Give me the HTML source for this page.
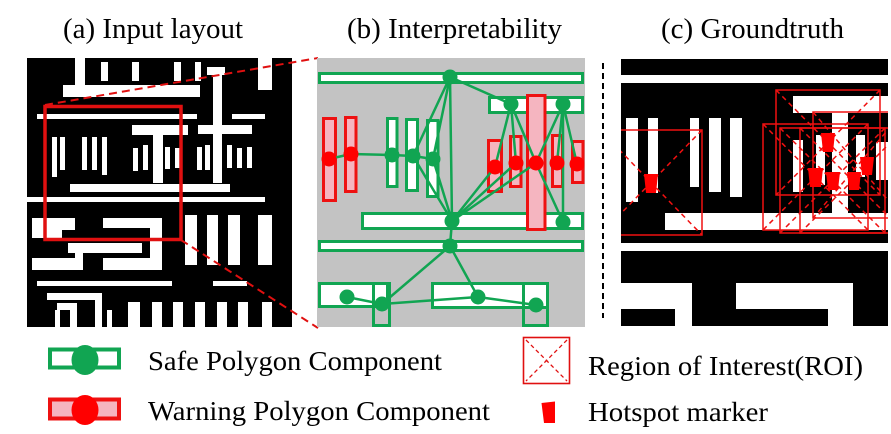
<!DOCTYPE html>
<html><head><meta charset="utf-8">
<style>
html,body{margin:0;padding:0;background:#fff;}
svg{display:block;}
text{font-family:"Liberation Serif",serif;fill:#000;}
</style></head><body>
<svg width="891" height="434" viewBox="0 0 891 434" xmlns="http://www.w3.org/2000/svg">
<defs>
<clipPath id="cc"><rect x="621" y="58" width="267" height="269"/></clipPath>
</defs>
<rect x="0" y="0" width="891" height="434" fill="#fff"/>

<text x="63" y="38" font-size="28" textLength="180" lengthAdjust="spacingAndGlyphs">(a) Input layout</text>
<text x="347" y="38" font-size="28" textLength="215" lengthAdjust="spacingAndGlyphs">(b) Interpretability</text>
<text x="661" y="38" font-size="28" textLength="183" lengthAdjust="spacingAndGlyphs">(c) Groundtruth</text>

<rect x="27" y="58" width="265" height="269" fill="#000"/>
<g fill="#fff">
  <rect x="75" y="58" width="10" height="27"/>
  <rect x="63" y="85" width="137" height="12"/>
  <rect x="101" y="62" width="7" height="19"/>
  <rect x="132" y="62" width="7" height="19"/>
  <rect x="174" y="62" width="7" height="19"/>
  <rect x="195" y="62" width="6" height="19"/>
  <rect x="258" y="58" width="14" height="32"/>
  <rect x="207" y="67" width="18" height="8"/>
  <rect x="213" y="67" width="9" height="116"/>
  <rect x="37" y="114" width="160" height="5"/>
  <rect x="232" y="114" width="33" height="5"/>
  <rect x="132" y="125" width="56" height="10"/>
  <rect x="153" y="125" width="10" height="58"/>
  <rect x="198" y="125" width="54" height="9"/>
  <rect x="52" y="137" width="5" height="40"/>
  <rect x="60" y="137" width="5" height="33"/>
  <rect x="82" y="137" width="5" height="33"/>
  <rect x="92" y="137" width="5" height="33"/>
  <rect x="102" y="137" width="5" height="38"/>
  <rect x="133" y="148" width="5" height="23"/>
  <rect x="143" y="145" width="5" height="25"/>
  <rect x="165" y="147" width="5" height="22"/>
  <rect x="175" y="148" width="5" height="20"/>
  <rect x="197" y="147" width="5" height="23"/>
  <rect x="205" y="145" width="5" height="25"/>
  <rect x="227" y="145" width="5" height="23"/>
  <rect x="237" y="148" width="5" height="20"/>
  <rect x="247" y="147" width="5" height="21"/>
  <rect x="70" y="184" width="160" height="8"/>
  <rect x="27" y="197" width="238" height="5"/>
  <rect x="185" y="215" width="12" height="50"/>
  <rect x="207" y="215" width="11" height="50"/>
  <rect x="228" y="215" width="12" height="50"/>
  <rect x="258" y="215" width="14" height="50"/>
  <rect x="32" y="218" width="43" height="12"/>
  <rect x="32" y="230" width="30" height="8"/>
  <rect x="68" y="243" width="74" height="10"/>
  <rect x="75" y="243" width="8" height="27"/>
  <rect x="32" y="258" width="51" height="12"/>
  <rect x="103" y="218" width="59" height="10"/>
  <rect x="150" y="218" width="12" height="52"/>
  <rect x="103" y="258" width="59" height="12"/>
  <rect x="37" y="281" width="135" height="5"/>
  <rect x="213" y="281" width="34" height="5"/>
  <rect x="47" y="293" width="55" height="7"/>
  <rect x="95" y="293" width="7" height="34"/>
  <rect x="57" y="303" width="20" height="7"/>
  <rect x="55" y="310" width="5" height="17"/>
  <rect x="70" y="305" width="7" height="22"/>
  <rect x="107" y="310" width="5" height="17"/>
  <rect x="128" y="302" width="12" height="25"/>
  <rect x="152" y="302" width="10" height="25"/>
  <rect x="173" y="302" width="10" height="25"/>
  <rect x="195" y="302" width="10" height="25"/>
  <rect x="217" y="302" width="10" height="25"/>
  <rect x="238" y="302" width="10" height="25"/>
  <rect x="262" y="302" width="10" height="25"/>
</g>
<rect x="45" y="106.5" width="136" height="133" fill="none" stroke="#e01010" stroke-width="3.5"/>
<line x1="45" y1="105" x2="318" y2="58" stroke="#e01010" stroke-width="2" stroke-dasharray="8,5"/>
<line x1="181" y1="240" x2="318" y2="328" stroke="#e01010" stroke-width="2" stroke-dasharray="8,5"/>

<rect x="317" y="58" width="268" height="269" fill="#c3c3c3"/>
<g fill="#fff" stroke="#11a552" stroke-width="3">
  <rect x="319.5" y="73.5" width="263" height="9"/>
  <rect x="489.5" y="97.5" width="93" height="15"/>
  <rect x="387.5" y="118.5" width="9.5" height="68"/>
  <rect x="406.5" y="119.5" width="11" height="71"/>
  <rect x="427.5" y="120.5" width="10.5" height="76"/>
  <rect x="362.5" y="213.5" width="220" height="15"/>
  <rect x="319.5" y="241.5" width="263" height="9"/>
  <rect x="319.5" y="283.5" width="68" height="23"/>
  <rect x="432.5" y="283.5" width="115" height="24"/>
</g>
<g fill="none" stroke="#11a552" stroke-width="3">
  <rect x="373.5" y="283.5" width="16" height="42"/>
  <rect x="523.5" y="283.5" width="24" height="42"/>
</g>
<g fill="#f5b5c0" stroke="#ee1111" stroke-width="3">
  <rect x="323.5" y="118.5" width="12" height="82"/>
  <rect x="345.5" y="117.5" width="10.5" height="74"/>
  <rect x="488.5" y="140.5" width="13" height="51"/>
  <rect x="510.5" y="136.5" width="10.5" height="50"/>
  <rect x="552.5" y="135.5" width="10" height="51"/>
  <rect x="572.5" y="141.5" width="10.5" height="41"/>
  <rect x="527.5" y="95.5" width="17.5" height="134"/>
</g>
<g stroke="#11a552" stroke-width="2.5" stroke-linecap="round">
  <line x1="329" y1="159" x2="351" y2="154"/>
  <line x1="351" y1="154" x2="392" y2="155"/>
  <line x1="392" y1="155" x2="413" y2="156"/>
  <line x1="413" y1="156" x2="433" y2="159"/>
  <line x1="450" y1="77" x2="511" y2="104"/>
  <line x1="450" y1="77" x2="413" y2="156"/>
  <line x1="450" y1="77" x2="433" y2="159"/>
  <line x1="450" y1="77" x2="452" y2="221"/>
  <line x1="413" y1="156" x2="452" y2="221"/>
  <line x1="433" y1="159" x2="452" y2="221"/>
  <line x1="511" y1="104" x2="495" y2="167"/>
  <line x1="511" y1="104" x2="516" y2="163"/>
  <line x1="511" y1="104" x2="536" y2="163"/>
  <line x1="563" y1="104" x2="536" y2="163"/>
  <line x1="563" y1="104" x2="557" y2="163"/>
  <line x1="563" y1="104" x2="577" y2="164"/>
  <line x1="563" y1="104" x2="563" y2="222"/>
  <line x1="452" y1="221" x2="495" y2="167"/>
  <line x1="452" y1="221" x2="516" y2="163"/>
  <line x1="452" y1="221" x2="536" y2="163"/>
  <line x1="536" y1="163" x2="563" y2="222"/>
  <line x1="452" y1="221" x2="450" y2="246"/>
  <line x1="450" y1="246" x2="382" y2="304"/>
  <line x1="450" y1="246" x2="478" y2="297"/>
  <line x1="347" y1="297" x2="382" y2="304"/>
  <line x1="382" y1="304" x2="478" y2="297"/>
  <line x1="478" y1="297" x2="536" y2="305"/>
</g>
<g fill="#11a552">
  <circle cx="450" cy="77" r="7.5"/>
  <circle cx="511" cy="104" r="7.5"/>
  <circle cx="563" cy="104" r="7.5"/>
  <circle cx="392" cy="155" r="7.5"/>
  <circle cx="413" cy="156" r="7.5"/>
  <circle cx="433" cy="159" r="7.5"/>
  <circle cx="452" cy="221" r="7.5"/>
  <circle cx="563" cy="222" r="7.5"/>
  <circle cx="450" cy="246" r="7.5"/>
  <circle cx="347" cy="297" r="7.5"/>
  <circle cx="382" cy="304" r="7.5"/>
  <circle cx="478" cy="297" r="7.5"/>
  <circle cx="536" cy="305" r="7.5"/>
</g>
<g fill="#ff0000">
  <circle cx="329" cy="159" r="7.5"/>
  <circle cx="351" cy="154" r="7.5"/>
  <circle cx="495" cy="167" r="7.5"/>
  <circle cx="516" cy="163" r="7.5"/>
  <circle cx="536" cy="163" r="7.5"/>
  <circle cx="557" cy="163" r="7.5"/>
  <circle cx="577" cy="164" r="7.5"/>
</g>

<line x1="603" y1="63" x2="603" y2="318" stroke="#000" stroke-width="2" stroke-dasharray="6,4"/>
<rect x="621" y="59" width="267" height="267" fill="#000"/>
<g fill="#fff">
  <rect x="621" y="75" width="267" height="8"/>
  <rect x="621" y="243" width="267" height="8"/>
  <rect x="626" y="118" width="12" height="84"/>
  <rect x="648" y="118" width="10" height="75"/>
  <rect x="690" y="118" width="9" height="69"/>
  <rect x="709" y="118" width="12" height="74"/>
  <rect x="730" y="118" width="12" height="79"/>
  <rect x="665" y="213" width="223" height="17"/>
  <rect x="793" y="96" width="95" height="17"/>
  <rect x="832" y="113" width="16" height="104"/>
  <rect x="793" y="140" width="10" height="52"/>
  <rect x="816" y="135" width="9" height="50"/>
  <rect x="856" y="135" width="9" height="42"/>
  <rect x="876" y="142" width="12" height="38"/>
  <rect x="621" y="283" width="71" height="26"/>
  <rect x="675" y="309" width="17" height="17"/>
  <rect x="736" y="283" width="117" height="26"/>
  <rect x="828" y="309" width="25" height="17"/>
</g>
<g clip-path="url(#cc)" fill="none" stroke="#f01010" stroke-width="1.5">
  <rect x="600" y="130" width="102" height="105"/>
  <rect x="776" y="90" width="104" height="105"/>
  <rect x="813" y="112" width="90" height="106"/>
  <rect x="763" y="124" width="105" height="106"/>
  <rect x="780" y="128" width="105" height="105"/>
  <rect x="800" y="128" width="105" height="105"/>
  <g stroke-dasharray="5,4">
    <line x1="600" y1="130" x2="702" y2="235"/><line x1="702" y1="130" x2="600" y2="235"/>
    <line x1="776" y1="90" x2="880" y2="195"/><line x1="880" y1="90" x2="776" y2="195"/>
    <line x1="813" y1="112" x2="903" y2="218"/><line x1="903" y1="112" x2="813" y2="218"/>
    <line x1="763" y1="124" x2="868" y2="230"/><line x1="868" y1="124" x2="763" y2="230"/>
    <line x1="780" y1="128" x2="885" y2="233"/><line x1="885" y1="128" x2="780" y2="233"/>
    <line x1="800" y1="128" x2="905" y2="233"/><line x1="905" y1="128" x2="800" y2="233"/>
  </g>
</g>
<g fill="#ff0000">
  <polygon points="644,174 658,174 656,193 646,193"/>
  <polygon points="821,133 835,133 833,152 823,152"/>
  <polygon points="808,168 823,168 821,187 810,187"/>
  <polygon points="826,172 840,172 838,190 828,190"/>
  <polygon points="847,172 861,172 859,190 849,190"/>
  <polygon points="860,157 874,157 872,175 862,175"/>
</g>

<rect x="50" y="349.5" width="69" height="18" fill="#fff" stroke="#11a552" stroke-width="4"/>
<ellipse cx="85" cy="360" rx="13.5" ry="15" fill="#11a552"/>
<text x="148" y="370" font-size="27" textLength="294" lengthAdjust="spacingAndGlyphs">Safe Polygon Component</text>

<rect x="50" y="399.5" width="69" height="19" fill="#f5b5c0" stroke="#ee1111" stroke-width="4"/>
<ellipse cx="85" cy="410" rx="13.5" ry="15" fill="#ff0000"/>
<text x="148" y="420" font-size="27" textLength="342" lengthAdjust="spacingAndGlyphs">Warning Polygon Component</text>

<rect x="523.5" y="337.5" width="46" height="46" fill="none" stroke="#e01010" stroke-width="1.6"/>
<g stroke="#e01010" stroke-width="1.3" stroke-dasharray="4,3">
  <line x1="526" y1="340" x2="567" y2="381"/>
  <line x1="567" y1="340" x2="526" y2="381"/>
</g>
<text x="588" y="375" font-size="27" textLength="275" lengthAdjust="spacingAndGlyphs">Region of Interest(ROI)</text>

<polygon points="541.5,403 555,401.5 555,423 544,423" fill="#ff0000"/>
<text x="588" y="421" font-size="27" textLength="180" lengthAdjust="spacingAndGlyphs">Hotspot marker</text>
</svg>
</body></html>
